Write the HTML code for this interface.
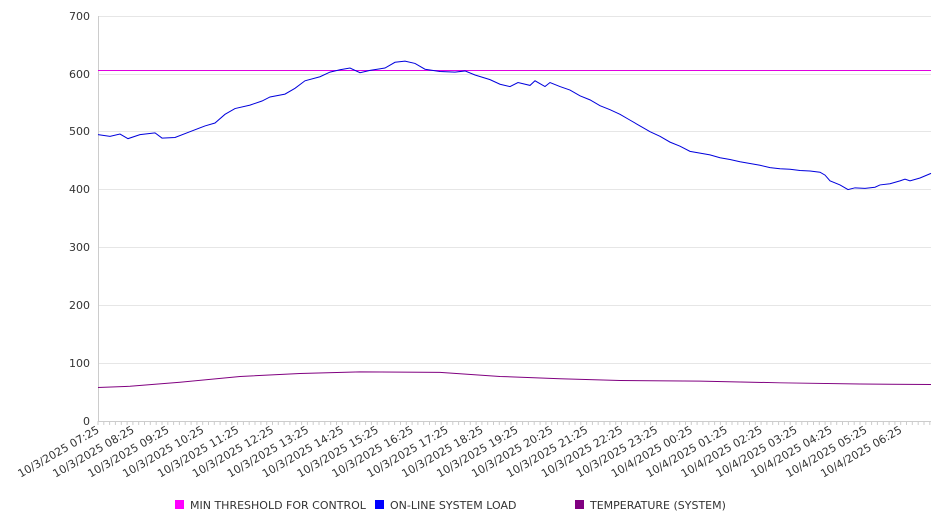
<!DOCTYPE html>
<html><head><style>body{margin:0;background:#fff}svg{display:block;font-family:"DejaVu Sans","Liberation Sans",sans-serif}</style></head><body>
<svg width="946" height="526" viewBox="0 0 946 526">
<g stroke="#e6e6e6" stroke-width="1">
<line x1="98" x2="931" y1="16.5" y2="16.5"/><line x1="98" x2="931" y1="74.5" y2="74.5"/><line x1="98" x2="931" y1="131.5" y2="131.5"/><line x1="98" x2="931" y1="189.5" y2="189.5"/><line x1="98" x2="931" y1="247.5" y2="247.5"/><line x1="98" x2="931" y1="305.5" y2="305.5"/><line x1="98" x2="931" y1="363.5" y2="363.5"/>
</g>
<line x1="98.5" x2="98.5" y1="16" y2="421" stroke="#ccc"/>
<line x1="98" x2="931" y1="421.5" y2="421.5" stroke="#ccc"/>
<g stroke="#ccc" id="ticks"></g>
<g font-size="11" fill="#333" text-anchor="end">
<text x="90" y="20">700</text><text x="90" y="78">600</text><text x="90" y="135">500</text><text x="90" y="193">400</text><text x="90" y="251">300</text><text x="90" y="309">200</text><text x="90" y="367">100</text><text x="90" y="425">0</text>
</g>
<line x1="98" x2="931" y1="70.5" y2="70.5" stroke="#e000e0" stroke-width="1"/>
<g transform="translate(0,421) scale(1,-0.5786)" fill="none">
<polyline stroke="#0000dd" stroke-width="1" vector-effect="non-scaling-stroke" points="98,495 110,492 120,496 128,488 140,495 155,498 162,489 175,490 190,500 205,510 215,515 225,530 235,540 250,546 262,553 270,560 285,565 295,575 305,588 320,595 330,603 340,607 350,610 360,602 370,606 385,610 395,620 405,622 415,618 425,608 440,604 455,603 465,605 475,598 490,590 500,582 510,578 518,585 530,580 535,588 545,578 550,585 560,578 570,572 580,562 590,555 600,545 610,538 620,530 630,520 640,510 650,500 660,492 670,482 680,475 690,466 700,463 710,460 720,455 730,452 740,448 750,445 760,442 770,438 780,436 790,435 800,433 810,432 820,430 825,425 830,415 840,408 848,400 855,403 865,402 875,404 880,408 890,410 900,415 905,418 910,415 920,420 931,428"/>
<polyline stroke="#800080" stroke-width="1" vector-effect="non-scaling-stroke" points="98,58 130,60 180,67 240,77 300,82 360,85 440,84 500,77 560,73 620,70 700,69 780,66 860,64 931,63"/>
</g>
<g font-size="11" fill="#333" text-anchor="end" id="xl"></g>
<g font-size="11" fill="#333">
<rect x="175" y="500" width="9" height="9" fill="#ff00ff"/><text x="190" y="509">MIN THRESHOLD FOR CONTROL</text>
<rect x="375" y="500" width="9" height="9" fill="#0000ff"/><text x="390" y="509">ON-LINE SYSTEM LOAD</text>
<rect x="575" y="500" width="9" height="9" fill="#800080"/><text x="590" y="509">TEMPERATURE (SYSTEM)</text>
</g>
<script>
var ns="http://www.w3.org/2000/svg",t=document.getElementById("ticks"),xl=document.getElementById("xl");
for(var x=98;x<=931;x+=34.9/6){var l=document.createElementNS(ns,"line");l.setAttribute("x1",x.toFixed(1));l.setAttribute("x2",x.toFixed(1));l.setAttribute("y1",421);l.setAttribute("y2",425);t.appendChild(l);}
for(var i=0;i<24;i++){var h=(7+i)%24,d=(7+i)>=24?"10/4/2025 ":"10/3/2025 ";var s=d+(h<10?"0":"")+h+":25";var x=100+i*34.9,y=432;var e=document.createElementNS(ns,"text");e.setAttribute("x",x);e.setAttribute("y",y);e.setAttribute("transform","rotate(-30 "+x+" "+y+")");e.textContent=s;xl.appendChild(e);}
</script>
</svg>
</body></html>
